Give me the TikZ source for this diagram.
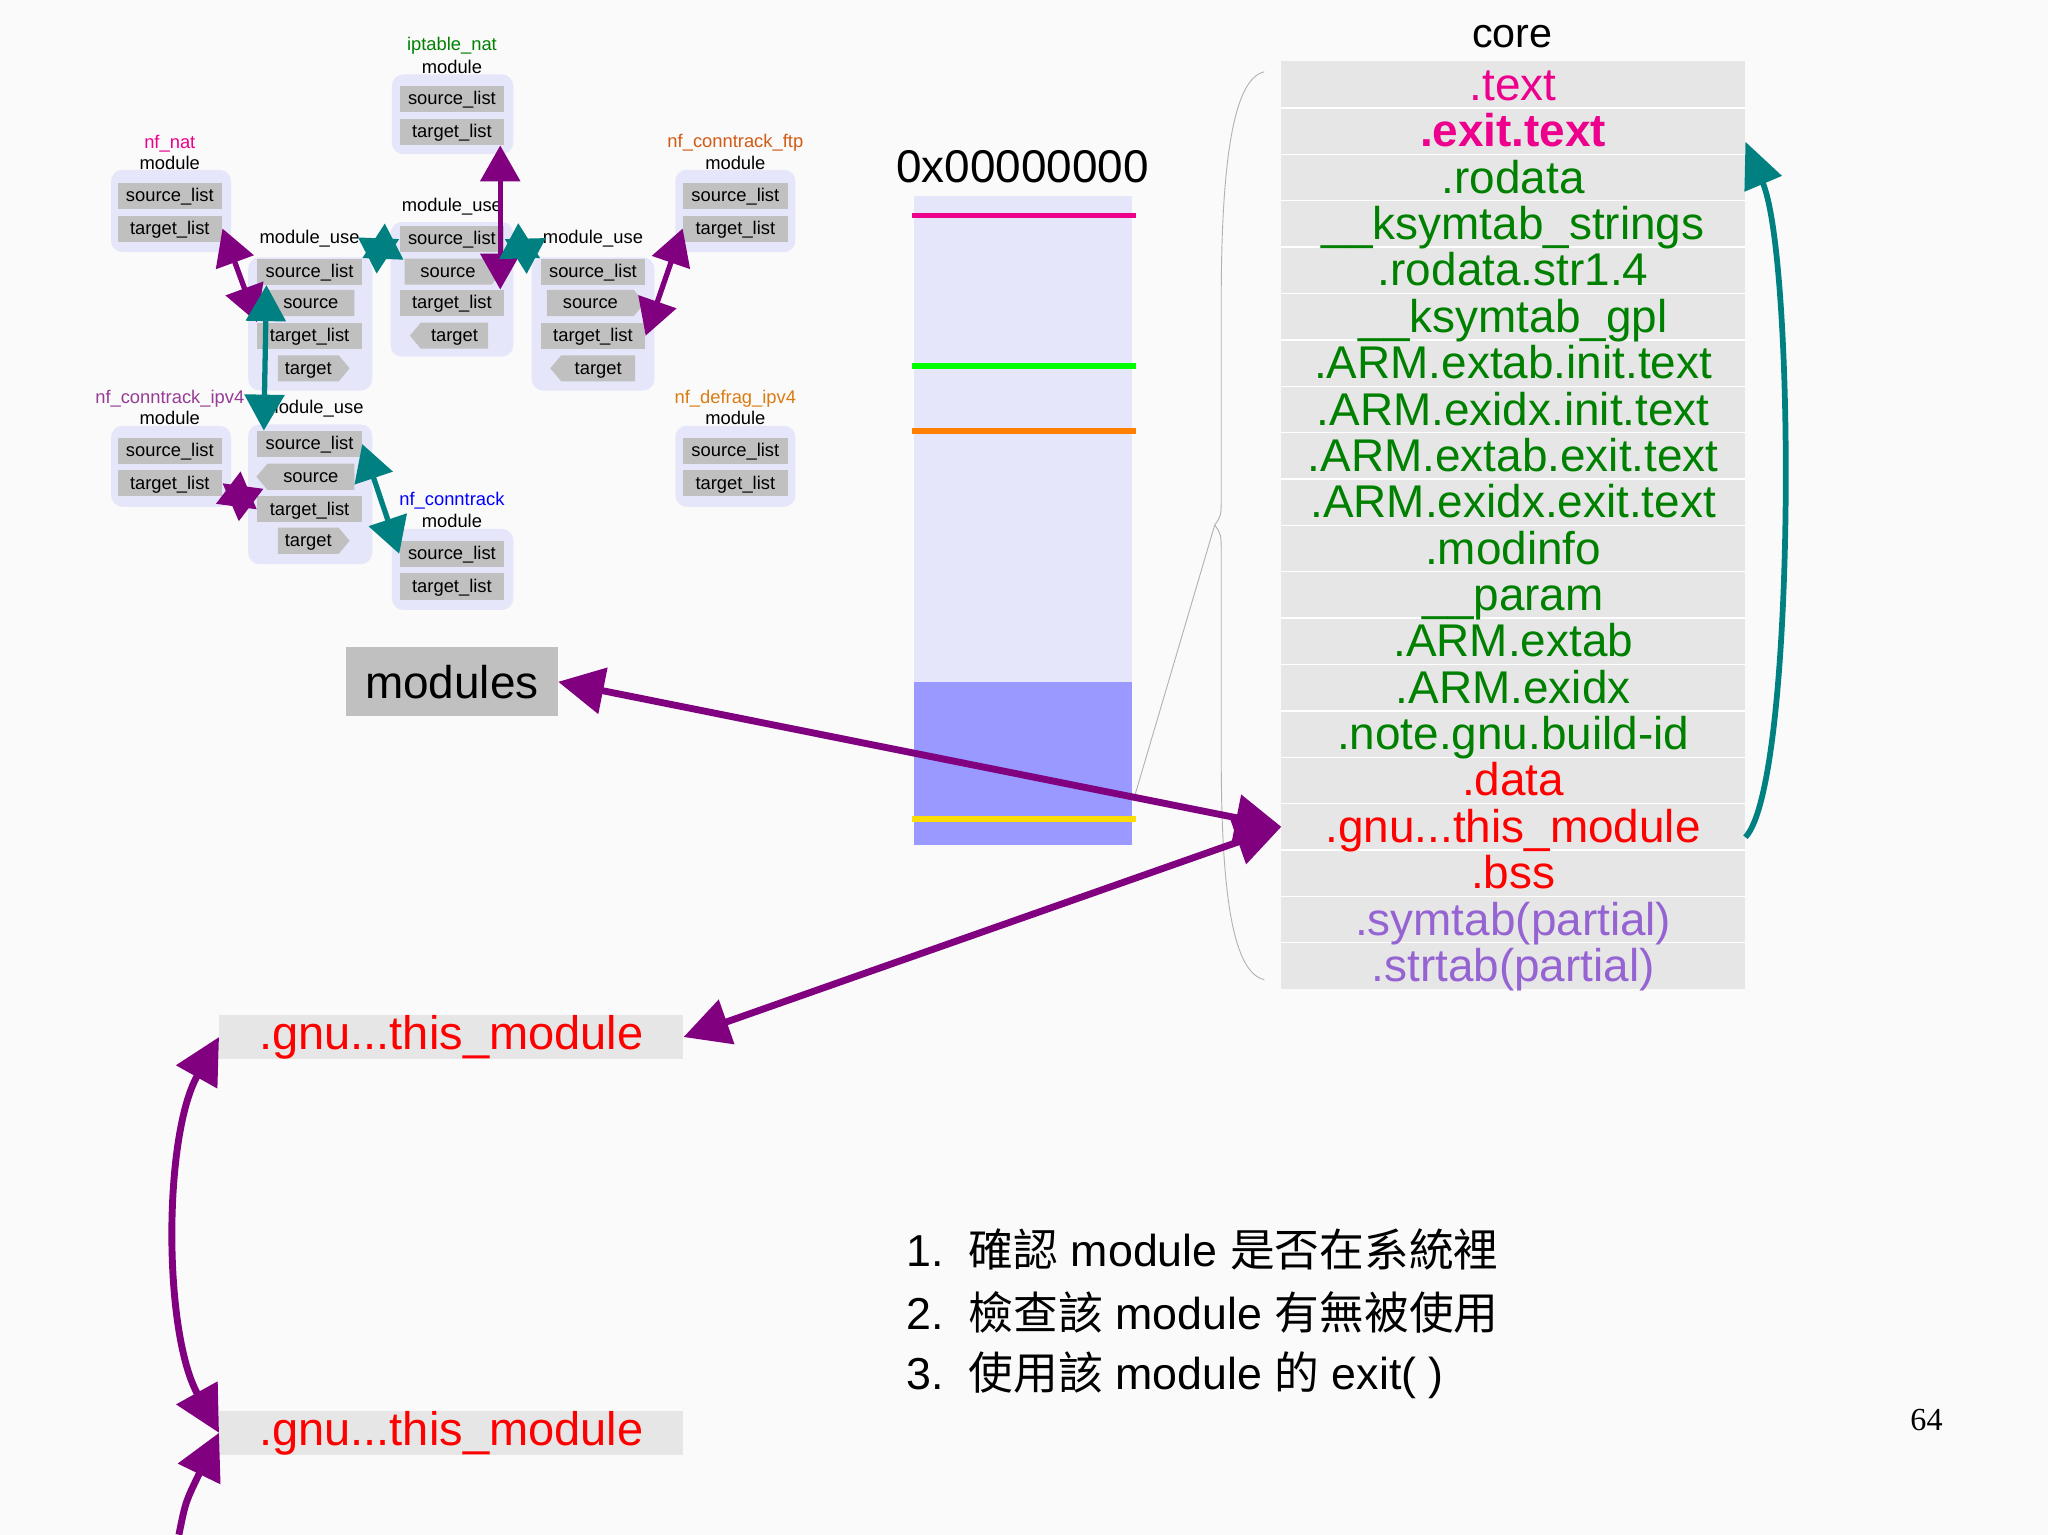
\documentclass[tikz,border=0pt]{standalone}
\usepackage{fontspec}
\setmainfont{Liberation Sans}
\newfontfamily\cjk{Noto Sans CJK TC}
\newfontfamily\serifff{Liberation Serif}
\usetikzlibrary{arrows.meta,shapes.symbols}
\definecolor{lav}{RGB}{230,230,250}
\definecolor{rowg}{RGB}{192,192,192}
\definecolor{coreg}{RGB}{230,230,230}
\definecolor{pur}{RGB}{128,0,128}
\definecolor{teal2}{RGB}{0,128,128}
\definecolor{dgreen}{RGB}{0,128,0}
\definecolor{symc}{RGB}{150,100,210}
\definecolor{ftpc}{RGB}{210,90,20}
\definecolor{ipv4c}{RGB}{150,60,150}
\begin{document}
\begin{tikzpicture}[x=0.02cm,y=-0.02cm,
  row/.style={fill=rowg,font=\fontsize{8}{8}\selectfont,minimum width=1.6cm,minimum height=0.4cm,inner sep=0pt,text height=0.72em,text depth=0.22em},
  sig/.style={row,shape=signal,signal pointer angle=100,minimum width=1.5cm},
  lbl/.style={font=\fontsize{8}{8}\selectfont,inner sep=0pt},
  garr/.style={line width=2.3pt,{Triangle[length=0.55cm,width=0.6cm]}-{Triangle[length=0.55cm,width=0.6cm]}},
  barr/.style={line width=3pt,pur,{Triangle[length=0.7cm,width=0.7cm]}-{Triangle[length=0.7cm,width=0.7cm]}},
  corerow/.style={minimum width=7.1cm,minimum height=0.68cm,inner sep=0pt,font=\fontsize{20}{20}\selectfont,text height=0.92em,text depth=0.02em,yshift=-0.08cm},
  gnu/.style={fill=coreg,minimum width=7.1cm,minimum height=0.68cm,inner sep=0pt,text=red,font=\fontsize{20.5}{20}\selectfont,text height=1.1em,text depth=-0.16em}]
\useasboundingbox (0,0) rectangle (1568,1175);
\fill[white!98!black] (0,0) rectangle (1568,1175);
% containers
\fill[lav,rounded corners=5pt] (85,130) rectangle (177,193);
\fill[lav,rounded corners=5pt] (300,57) rectangle (393,118);
\fill[lav,rounded corners=5pt] (517,130) rectangle (609,193);
\fill[lav,rounded corners=5pt] (190,197) rectangle (285,299);
\fill[lav,rounded corners=5pt] (299,170) rectangle (393,273);
\fill[lav,rounded corners=5pt] (407,197) rectangle (501,299);
\fill[lav,rounded corners=5pt] (85,326) rectangle (177,388);
\fill[lav,rounded corners=5pt] (190,325) rectangle (285,432);
\fill[lav,rounded corners=5pt] (300,405) rectangle (393,467);
\fill[lav,rounded corners=5pt] (517,326) rectangle (609,388);
% labels
\node[lbl,text=magenta] (l1) at (130,110) {nf\_nat};
\node[lbl] (l1m) at (130,125) {module};
\node[lbl,text=dgreen] (l2) at (346,35) {iptable\_nat};
\node[lbl] (l2m) at (346,51) {module};
\node[lbl,text=ftpc] (l3) at (563,109) {nf\_conntrack\_ftp};
\node[lbl] (l3m) at (563,125) {module};
\node[lbl] (l4) at (237,183) {module\_use};
\node[lbl] (l5) at (346,158) {module\_use};
\node[lbl] (l6) at (454,183) {module\_use};
\node[lbl,text=ipv4c] (l7) at (130,305) {nf\_conntrack\_ipv4};
\node[lbl] (l7m) at (130,320) {module};
\node[lbl] (l8) at (240,313) {module\_use};
\node[lbl,text=blue] (l9) at (346,383) {nf\_conntrack};
\node[lbl] (l9m) at (346,399) {module};
\node[lbl,text=ftpc!80!yellow] (l10) at (563,305) {nf\_defrag\_ipv4};
\node[lbl] (l10m) at (563,320) {module};
% rows
\node[row] (natS) at (130,150) {source\_list};
\node[row] (natT) at (130,175) {target\_list};
\node[row] (iptS) at (346,76) {source\_list};
\node[row] (iptT) at (346,101) {target\_list};
\node[row] (ftpS) at (563,150) {source\_list};
\node[row] (ftpT) at (563,175) {target\_list};
\node[row] (aS) at (237,208) {source\_list};
\node[sig,signal to=west] (aSrc) at (238,232) {source};
\node[row] (aT) at (237,257) {target\_list};
\node[sig,signal to=east,minimum width=1.1cm] (aTg) at (236,282) {target};
\node[row] (bS) at (346,183) {source\_list};
\node[sig,signal to=east] (bSrc) at (343,208) {source};
\node[row] (bT) at (346,232) {target\_list};
\node[sig,signal to=west,minimum width=1.2cm] (bTg) at (348,257) {target};
\node[row] (cS) at (454,208) {source\_list};
\node[sig,signal to=east] (cSrc) at (452,232) {source};
\node[row] (cT) at (454,257) {target\_list};
\node[sig,signal to=west,minimum width=1.3cm] (cTg) at (458,282) {target};
\node[row] (ipvS) at (130,345) {source\_list};
\node[row] (ipvT) at (130,370) {target\_list};
\node[row] (dS) at (237,340) {source\_list};
\node[sig,signal to=west] (dSrc) at (238,365) {source};
\node[row] (dT) at (237,390) {target\_list};
\node[sig,signal to=east,minimum width=1.1cm] (dTg) at (236,414) {target};
\node[row] (ctS) at (346,424) {source\_list};
\node[row] (ctT) at (346,449) {target\_list};
\node[row] (dfS) at (563,345) {source\_list};
\node[row] (dfT) at (563,370) {target\_list};
% graph arrows
\draw[garr,pur] (natT.east) -- (aT.north west);
\draw[garr,teal2] ([xshift=-0.66cm]aS.south) -- ([xshift=-0.7cm]dS.north);
\draw[garr,teal2] (aS.north east) -- (bS.west);
\draw[garr,pur] ([xshift=0.74cm]iptT.south) -- ([xshift=0.74cm]bT.north);
\draw[garr,teal2] (bS.east) -- (cS.north west);
\draw[garr,pur] (ftpT.west) -- (cT.east);
\draw[garr,pur] (ipvT.east) -- (dT.west);
\draw[garr,teal2] (dS.east) -- (ctS.west);
% memory bar
\fill[lav] (700,150) rectangle (867,522);
\fill[blue!40!white] (700,522) rectangle (867,647);
\node[font=\fontsize{20}{20}\selectfont] (addr) at (783,128) {0x00000000};
\draw[magenta,line width=2.5pt] (698,165) coordinate (m1) -- (870,165) coordinate (m2);
\draw[green,line width=2.5pt] (698,280) coordinate (g1) -- (870,280) coordinate (g2);
\draw[orange,line width=2.5pt] (698,330) coordinate (o1) -- (870,330) coordinate (o2);
\draw[yellow!80!orange,line width=2.5pt] (698,627) coordinate (y1) -- (870,627) coordinate (y2);
% core
\node[font=\fontsize{18}{18}\selectfont] (core) at (1158,28) {core};
\fill[coreg] (981,47) rectangle (1336,757);
\foreach \i in {1,...,19} \draw[white,line width=0.6pt] (981,{47.25+35.5*\i}) -- (1336,{47.25+35.5*\i});
\foreach \i/\t/\c in {0/.text/magenta,2/.rodata/dgreen,3/\_\_ksymtab\_strings/dgreen,4/.rodata.str1.4/dgreen,5/\_\_ksymtab\_gpl/dgreen,6/.ARM.extab.init.text/dgreen,7/.ARM.exidx.init.text/dgreen,8/.ARM.extab.exit.text/dgreen,9/.ARM.exidx.exit.text/dgreen,10/.modinfo/dgreen,11/\_\_param/dgreen,12/.ARM.extab/dgreen,13/.ARM.exidx/dgreen,14/.note.gnu.build-id/dgreen,15/.data/red,17/.bss/red,18/.symtab(partial)/symc,19/.strtab(partial)/symc}
  \node[corerow,text=\c] (r\i) at (1158.5,{65+35.5*\i}) {\t};
\node[corerow,text=magenta] (r1) at (1158.5,100.5) {\textbf{.exit.text}};
\node[corerow,text=red] (r16) at (1158.5,633) {.gnu...this\_module};
% brace
\draw[gray!60,thin] (968,55) .. controls (945,60) and (935,120) .. (935,230) -- (935,380) .. controls (935,395) .. (930,402) coordinate (bt) .. controls (935,409) .. (935,425) -- (935,580) .. controls (935,690) and (945,745) .. (968,750);
\draw[gray!60,thin] (868,612) coordinate (bb) -- (bt);
% modules
\node[fill=rowg,minimum width=3.24cm,minimum height=1.06cm,font=\fontsize{20}{20}\selectfont,inner sep=0pt] (mods) at (346,522) {modules};
\node[gnu] (g1n) at (345.5,794) {.gnu...this\_module};
\node[gnu] (g2n) at (345.5,1097) {.gnu...this\_module};
\coordinate (gt) at (981,633);
\draw[barr] (mods.east) -- (gt);
\draw[barr] (g1n.east) -- (gt);
\draw[line width=2.5pt,teal2,-{Triangle[length=0.7cm,width=0.6cm]}] ([yshift=-0.08cm]r16.east) .. controls (1375,600) and (1375,200) .. ([yshift=-0.08cm]r1.east);
\draw[barr] (g1n.west) .. controls (125,870) and (125,1020) .. (g2n.west);
\coordinate (bot) at (137,1175);
\draw[line width=3pt,pur,-{Triangle[length=0.7cm,width=0.7cm]}] (bot) .. controls (142,1150) .. (g2n.west);
% list
\node[anchor=west,font=\fontsize{19.5}{19}\selectfont] (li1) at (688,957) {1.\ \ {\cjk 確認} module {\cjk 是否在系統裡}};
\node[anchor=west,font=\fontsize{19.5}{19}\selectfont] (li2) at (688,1005) {2.\ \ {\cjk 檢查該} module {\cjk 有無被使用}};
\node[anchor=west,font=\fontsize{19.5}{19}\selectfont] (li3) at (688,1053) {3.\ \ {\cjk 使用該} module {\cjk 的} exit( )};
\node[font=\fontsize{14}{14}\serifff] (pg) at (1475,1087) {64};
\end{tikzpicture}
\end{document}
